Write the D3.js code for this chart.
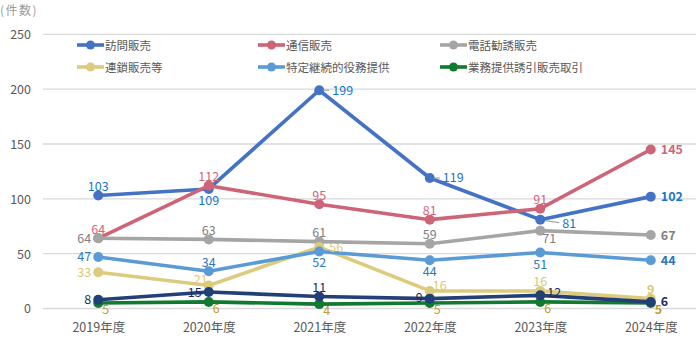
<!DOCTYPE html>
<html><head><meta charset="utf-8">
<script src="https://cdn.jsdelivr.net/npm/d3@7"></script>
<style>
html,body{margin:0;padding:0;background:#fff;}
svg{display:block;font-family:"Noto Sans CJK JP","Noto Sans",sans-serif;}
</style></head>
<body>
<script>
const years = ["2019年度","2020年度","2021年度","2022年度","2023年度","2024年度"];
const yTicks = [0,50,100,150,200,250];
const seriesNames = ["訪問販売","通信販売","電話勧誘販売","連鎖販売等","特定継続的役務提供","業務提供誘引販売取引","（その他）"];
const houmon   = [103,109,199,119,81,102];
const tsushin  = [64,112,95,81,91,145];
const denwa    = [64,63,61,59,71,67];
const rensa    = [33,21,56,16,16,9];
const tokutei  = [47,34,52,44,51,44];
const gyomu    = [5,6,4,5,6,5];
const sonota   = [8,15,11,9,12,6];
const lineColors  = ["#4472c4","#cd6478","#a5a5a5","#dccb7c","#5b9bd5","#117a30","#223f78"];
const labelColors = ["#1a74c6","#d0667a","#808080","#dcc878","#2f78c0","#b8a030","#1c2c5c"];
// label placement per point
const labelPos = [
  ["a","b","rr","rr","rb","r"],
  ["a","a","a","a","a","r"],
  ["l","a","a","a","b2","r"],
  ["l","al","r","ar","a","a"],
  ["l","a","b","b","b","r"],
  ["br","br","br","br","br","br"],
  ["l","l","a","l2","ru","r"]
];
const allData = [houmon,tsushin,denwa,rensa,tokutei,gyomu,sonota];

const W=696,H=339;
const svg=d3.select("body").append("svg").attr("width",W).attr("height",H);
const x=d3.scalePoint().domain(years).range([43,706]).padding(0.5);
const y=d3.scaleLinear().domain([0,250]).range([308.5,34.3]);

// gridlines
svg.append("g").selectAll("line").data(yTicks).join("line")
  .attr("x1",43).attr("x2",W).attr("y1",d=>y(d)).attr("y2",d=>y(d))
  .attr("stroke","#d9d9d9").attr("stroke-width",1.3);

// y axis labels
const yAxis=d3.axisLeft(y).tickValues(yTicks).tickSize(0).tickPadding(0);
const gy=svg.append("g").attr("transform","translate(31,0)").call(yAxis);
gy.select(".domain").remove();
gy.selectAll("text").attr("fill","#595959").style("font-size","12.5px").attr("font-family","'Noto Sans CJK JP',sans-serif").attr("dy","0.35em");

// x axis labels
const xAxis=d3.axisBottom(x).tickSize(0).tickPadding(0);
const gx=svg.append("g").attr("transform","translate(0,321)").call(xAxis);
gx.select(".domain").remove();
gx.selectAll("text").attr("fill","#595959").style("font-size","12.5px").attr("font-family","'Noto Sans CJK JP',sans-serif").attr("dy","0.9em");

svg.append("text").attr("x",0).attr("y",15).text("(件数)").attr("fill","#9a9a9a")
  .style("font-size","12px").style("letter-spacing","1.5px");

// lines
const line=d3.line().x((d,i)=>x(years[i])).y(d=>y(d));
allData.forEach((arr,s)=>{
  const g=svg.append("g");
  g.append("path").datum(arr).attr("d",line).attr("fill","none")
    .attr("stroke",lineColors[s]).attr("stroke-width",3.6).attr("stroke-linejoin","round");
  g.selectAll("circle").data(arr).join("circle")
    .attr("cx",(d,i)=>x(years[i])).attr("cy",d=>y(d)).attr("r",5).attr("fill",lineColors[s]);
});

// leader lines
[[2,houmon[2]],[3,houmon[3]]].forEach(([i,v])=>{
  svg.append("path").attr("d",`M${x(years[i])+4},${y(v)}H${x(years[i])+10}`)
    .attr("stroke","#a6a6a6").attr("stroke-width",1.2).attr("fill","none");
});
svg.append("path").attr("d",`M${x(years[4])+5},${y(houmon[4])+1}L${x(years[4])+19},${y(houmon[4])+3}`)
  .attr("stroke","#a6a6a6").attr("stroke-width",1.1).attr("fill","none");

// labels
const off={a:[0,-4.5,"middle"],b:[0,16,"middle"],l:[-7,4.5,"end"],l2:[-7,3,"end"],
  r:[10,4.5,"start"],rr:[13,4.5,"start"],ru:[7,2,"start"],
  br:[4,11,"start"],rb:[22,8,"start"],b2:[9,12.5,"middle"],al:[-1,-1,"end"],ar:[3,-1,"start"]};
allData.forEach((arr,s)=>{
  svg.append("g").selectAll("text").data(arr).join("text")
    .attr("x",(d,i)=>x(years[i])+off[labelPos[s][i]][0])
    .attr("y",(d,i)=>y(d)+off[labelPos[s][i]][1])
    .attr("text-anchor",(d,i)=>off[labelPos[s][i]][2])
    .attr("fill",labelColors[s])
    .attr("font-weight",(d,i)=>i===5?"bold":"normal")
    .style("font-size","12.5px")
    .text(d=>d);
});

// legend
const legX=[77,258,440], legY=[45,67];
seriesNames.slice(0,6).forEach((n,i)=>{
  const lx=legX[i%3], ly=legY[Math.floor(i/3)];
  const g=svg.append("g");
  g.append("line").attr("x1",lx).attr("x2",lx+27).attr("y1",ly).attr("y2",ly)
    .attr("stroke",lineColors[i]).attr("stroke-width",3.6);
  g.append("circle").attr("cx",lx+13.5).attr("cy",ly).attr("r",4.5).attr("fill",lineColors[i]);
  g.append("text").attr("x",lx+28).attr("y",ly+4.5).text(n).attr("fill","#595959").style("font-size","11.5px");
});
</script>
</body></html>
